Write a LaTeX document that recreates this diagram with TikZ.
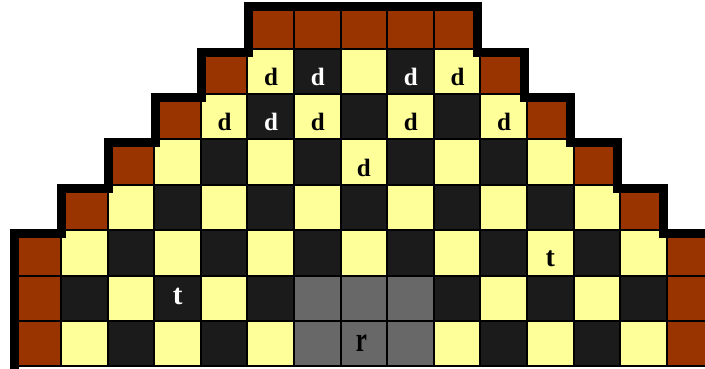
\documentclass[tikz,border=0pt]{standalone}
\usepackage{fontspec}
\setmainfont{Liberation Serif}
\definecolor{brownc}{HTML}{993300}
\definecolor{lightc}{HTML}{FFFF99}
\definecolor{darkc}{HTML}{1B1B1B}
\definecolor{grayc}{HTML}{686868}
\tikzset{
  cellbox/.style={line width=2pt, draw=black},
  outline/.style={line width=9pt, draw=black, line join=miter},
  piece/.style={anchor=base, inner sep=0pt, font=\fontsize{25}{25}\selectfont\bfseries},
  dk/.style={piece, text=black},
  lt/.style={piece, text=white}
}
\begin{document}
\begin{tikzpicture}[x=1pt,y=-1pt]
\useasboundingbox (0,0) rectangle (705,368);
\clip (0,0) rectangle (705,368);
\fill[white] (0,0) rectangle (705,368);
% cells
\foreach \r in {0,...,7}{
  \pgfmathtruncatemacro\lo{max(0,5-\r)}
  \pgfmathtruncatemacro\hi{min(14,9+\r)}
  \foreach \c in {\lo,...,\hi}{
    \pgfmathtruncatemacro\pp{mod(\r+\c,2)}
    \ifnum\pp=0 \def\col{lightc}\else\def\col{darkc}\fi
    \ifnum\r>5 \ifnum\c>5 \ifnum\c<9 \def\col{grayc}\fi\fi\fi
    \ifnum\c=\lo \def\col{brownc}\fi
    \ifnum\c=\hi \def\col{brownc}\fi
    \ifnum\r=0 \def\col{brownc}\fi
    \path[cellbox, fill=\col] ({14.4+46.6*\c},{3.1+45.4*\r}) rectangle ({14.4+46.6*(\c+1)},{3.1+45.4*(\r+1)});
  }
}
% stepped outline
\draw[outline] (14.9,380) -- (14.9,233.7) -- (61.8,233.7) -- (61.8,188.3) -- (108.4,188.3)
  -- (108.4,142.9) -- (155,142.9) -- (155,97.5) -- (201.6,97.5) -- (201.6,52.1)
  -- (248.2,52.1) -- (248.2,6.7) -- (477.4,6.7) -- (477.4,52.1) -- (524,52.1)
  -- (524,97.5) -- (570.6,97.5) -- (570.6,142.9) -- (617.2,142.9) -- (617.2,188.3)
  -- (663.8,188.3) -- (663.8,233.7) -- (710.4,233.7) -- (710.4,380);
% pieces row 1
\node[dk] (d15) at (271.1,85) {d};
\node[lt] (d16) at (317.7,85) {d};
\node[lt] (d18) at (410.9,85) {d};
\node[dk] (d19) at (457.5,85) {d};
% row 2
\node[dk] (d24) at (224.5,130.5) {d};
\node[lt] (d25) at (271.1,130.5) {d};
\node[dk] (d26) at (317.7,130.5) {d};
\node[dk] (d28) at (410.9,130.5) {d};
\node[dk] (d210) at (504.1,130.5) {d};
% row 3
\node[dk] (d37) at (363.9,176) {d};
% t pieces
\node[dk, font=\fontsize{28}{28}\selectfont\bfseries] (t511) at (550.3,266.7) {t};
\node[lt, font=\fontsize{29}{29}\selectfont\bfseries] (t63) at (177.7,304) {t};
% r
\node[dk] (r77) at (361.5,351) {\scalebox{1}[1.4]{r}};
\end{tikzpicture}
\end{document}
